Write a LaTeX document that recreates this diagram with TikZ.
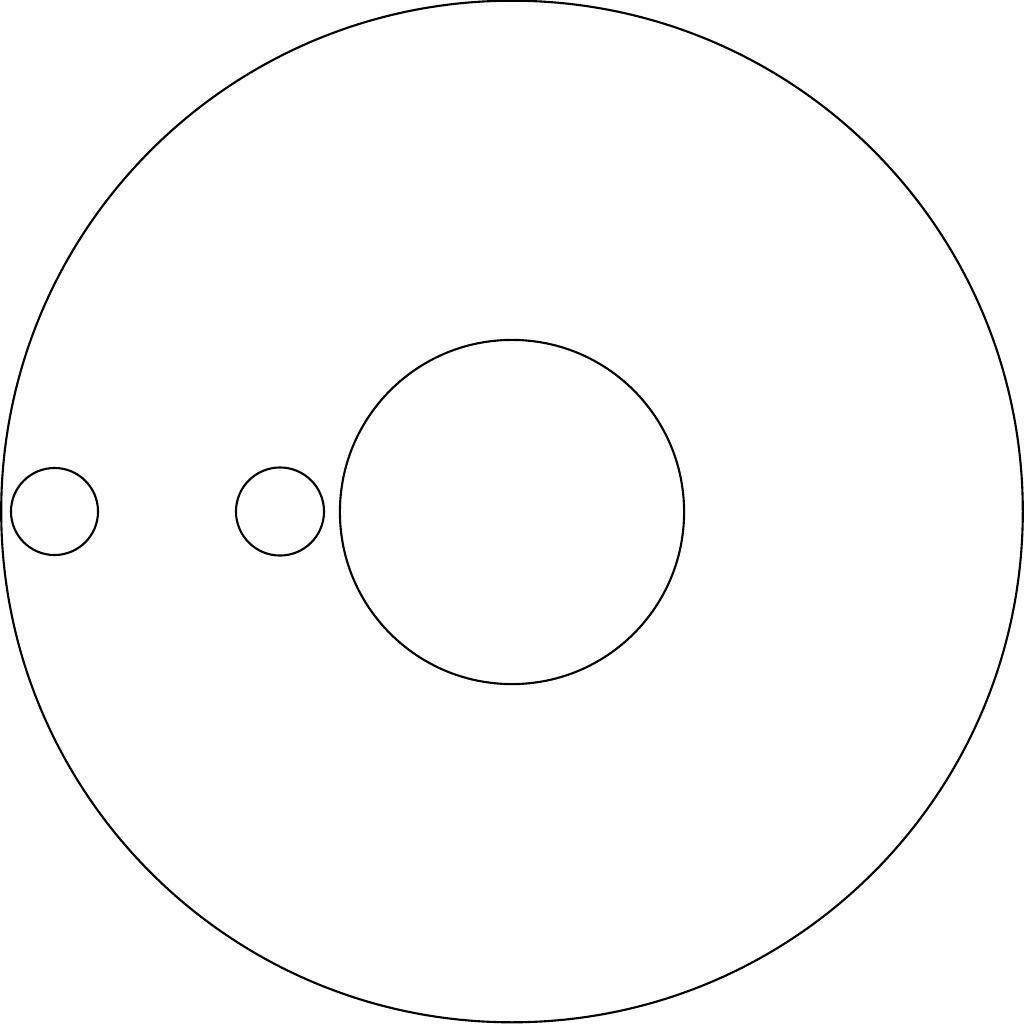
\documentclass[tikz,border=0pt]{standalone}
\begin{document}
\begin{tikzpicture}[x=0.01cm,y=-0.01cm,
  ring/.style={circle,draw=black,line width=0.6pt,inner sep=0pt,outer sep=0pt}]
\useasboundingbox (0,0) rectangle (1024,1024);
\node[ring,minimum size=10.21cm] (outer) at (512,511.5) {};
\node[ring,minimum size=3.44cm] (inner) at (512,512) {};
\node[ring,minimum size=0.87cm] (small1) at (54.5,511.5) {};
\node[ring,minimum size=0.88cm] (small2) at (280,511.5) {};
\end{tikzpicture}
\end{document}
